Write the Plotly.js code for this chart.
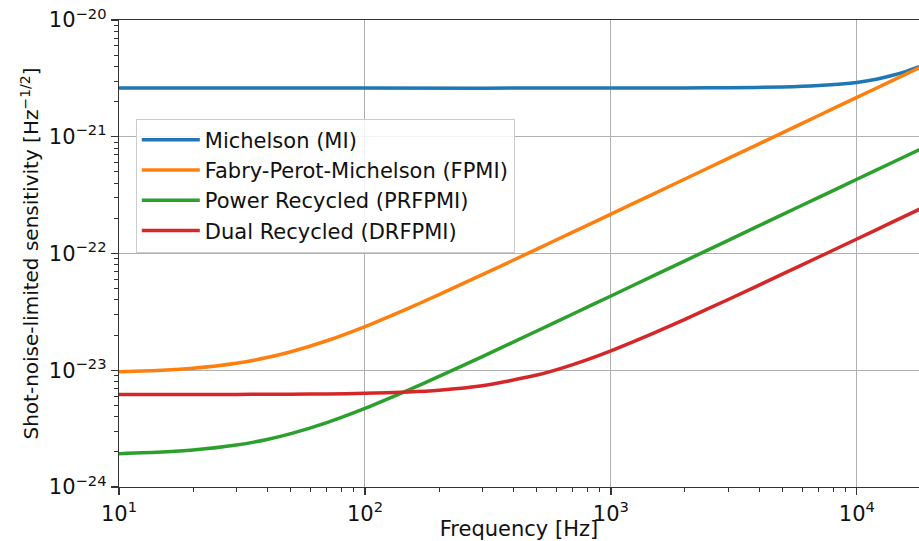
<!DOCTYPE html>
<html>
<head>
<meta charset="utf-8">
<script src="https://cdn.plot.ly/plotly-3.0.1.min.js"></script>
<style>
  html, body { margin: 0; padding: 0; background: #fff; }
  #chart { width: 919px; height: 541px; }
</style>
</head>
<body>
<div id="chart"></div>
<script>
// Frequency grid [Hz]
const freq = [10, 15, 20, 30, 40, 50, 70, 100, 150, 200, 300, 500, 700, 1000, 1500, 2000, 3000, 5000, 7000, 10000, 14000, 18000];

// Michelson (MI)
const miFreq = [10, 100, 1000, 2000, 3000, 5000, 7000, 10000, 12000, 14000, 16000, 18000];
const miVals = [2.61e-21, 2.61e-21, 2.61e-21, 2.62e-21, 2.63e-21, 2.67e-21, 2.75e-21, 2.92e-21, 3.11e-21, 3.36e-21, 3.65e-21, 3.98e-21];

// Fabry-Perot-Michelson (FPMI)
const fpmiVals = [9.70e-24, 1.000e-23, 1.040e-23, 1.148e-23, 1.284e-23, 1.440e-23, 1.790e-23, 2.369e-23, 3.393e-23, 4.446e-23, 6.585e-23, 1.090e-22, 1.524e-22, 2.175e-22, 3.260e-22, 4.346e-22, 6.518e-22, 1.086e-21, 1.521e-21, 2.173e-21, 3.041e-21, 3.910e-21];

// Power Recycled (PRFPMI)
const prVals = [1.930e-24, 1.990e-24, 2.070e-24, 2.285e-24, 2.555e-24, 2.866e-24, 3.562e-24, 4.714e-24, 6.752e-24, 8.848e-24, 1.310e-23, 2.170e-23, 3.032e-23, 4.327e-23, 6.487e-23, 8.649e-23, 1.297e-22, 2.162e-22, 3.026e-22, 4.323e-22, 6.052e-22, 7.781e-22];

// Dual Recycled (DRFPMI)
const drVals = [6.20e-24, 6.20e-24, 6.201e-24, 6.213e-24, 6.222e-24, 6.236e-24, 6.270e-24, 6.341e-24, 6.513e-24, 6.747e-24, 7.374e-24, 9.094e-24, 1.119e-23, 1.468e-23, 2.090e-23, 2.732e-23, 4.039e-23, 6.681e-23, 9.334e-23, 1.332e-22, 1.864e-22, 2.396e-22];

// Tick labels
const xTickVals = [10, 100, 1000, 10000];
const xTickText = ["10<sup>1</sup>", "10<sup>2</sup>", "10<sup>3</sup>", "10<sup>4</sup>"];
const yTickVals = [1e-24, 1e-23, 1e-22, 1e-21, 1e-20];
const yTickText = ["10<sup>\u221224</sup>", "10<sup>\u221223</sup>", "10<sup>\u221222</sup>", "10<sup>\u221221</sup>", "10<sup>\u221220</sup>"];

const seriesNames = ["Michelson (MI)", "Fabry-Perot-Michelson (FPMI)", "Power Recycled (PRFPMI)", "Dual Recycled (DRFPMI)"];
const seriesColors = ["#1f77b4", "#ff7f0e", "#2ca02c", "#d62728"];

const xs = [miFreq, freq, freq, freq];
const ys = [miVals, fpmiVals, prVals, drVals];

const traces = ys.map((y, i) => ({
  x: xs[i], y: y, type: "scatter", mode: "lines",
  name: seriesNames[i], legendgroup: "g" + i,
  line: { color: seriesColors[i], width: 3.5, shape: "spline", smoothing: 0.6 },
  hoverinfo: "skip"
}));

const fontFam = "DejaVu Sans, sans-serif";
const axisCommon = {
  type: "log",
  showgrid: true, gridcolor: "#b0b0b0", gridwidth: 1,
  showline: true, linecolor: "#333", linewidth: 1.3,
  ticks: "outside", ticklen: 7, tickwidth: 1.2, tickcolor: "#333",
  tickmode: "array",
  tickfont: { family: fontFam, size: 21, color: "#111" },
  minor: { ticks: "outside", ticklen: 4, tickwidth: 1, tickcolor: "#333", dtick: "D1", showgrid: false },
  zeroline: false
};

const layout = {
  width: 919, height: 541,
  margin: { l: 119, r: 0, t: 20, b: 54, pad: 0 },
  paper_bgcolor: "#fff", plot_bgcolor: "#fff",
  showlegend: true,
  hovermode: false,
  xaxis: Object.assign({}, axisCommon, {
    range: [1, 4.2526],
    tickvals: xTickVals, ticktext: xTickText,
    mirror: true,
    title: { text: "Frequency [Hz]", font: { family: fontFam, size: 21, color: "#111" }, standoff: 0 }
  }),
  yaxis: Object.assign({}, axisCommon, {
    range: [-24, -20],
    tickvals: yTickVals, ticktext: yTickText,
    title: { text: "Shot-noise-limited sensitivity [Hz<sup>\u22121/2</sup>]", font: { family: fontFam, size: 20, color: "#111" }, standoff: 4 }
  }),
  legend: {
    x: 0.021, y: 0.789, xanchor: "left", yanchor: "top",
    bgcolor: "rgba(255,255,255,0.85)", bordercolor: "#cccccc", borderwidth: 1,
    font: { family: fontFam, size: 21, color: "#111" },
    itemwidth: 58,
    tracegroupgap: 3,
    traceorder: "normal"
  }
};

Plotly.newPlot("chart", traces, layout, { displayModeBar: false, staticPlot: true });
</script>
</body>
</html>
